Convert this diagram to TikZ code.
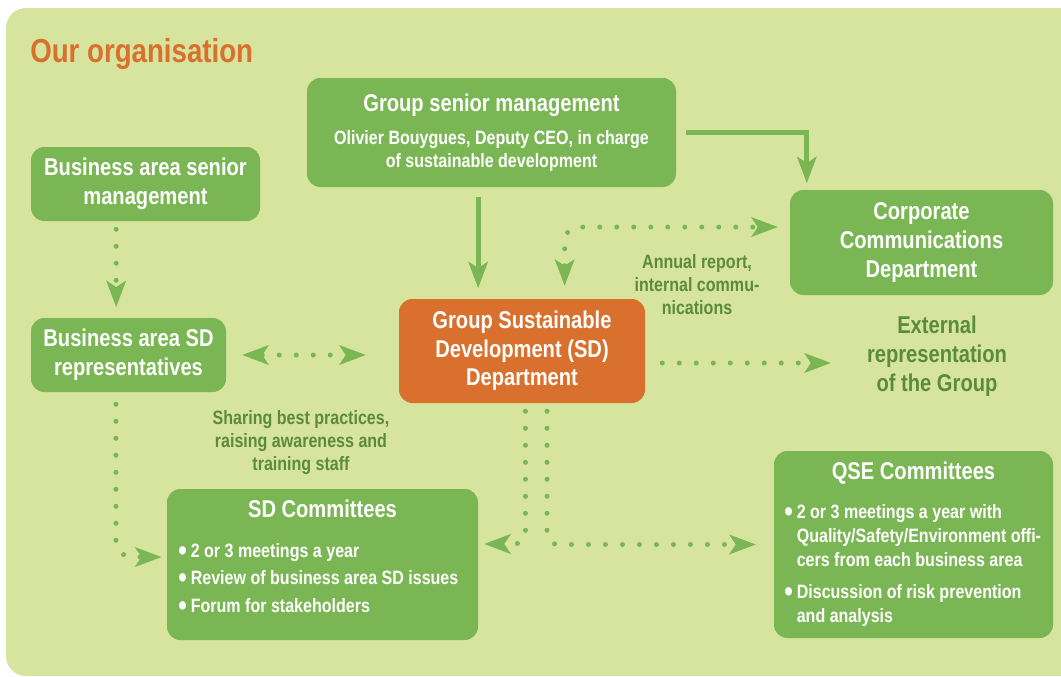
\documentclass[tikz,border=0pt]{standalone}
\usepackage{fontspec}
\setmainfont{Liberation Sans}[FakeStretch=0.83]
\usetikzlibrary{arrows.meta,positioning}
\definecolor{panel}{HTML}{D6E49E}
\definecolor{leaf}{HTML}{7AB653}
\definecolor{rust}{HTML}{D9702E}
\definecolor{moss}{HTML}{5A8C3A}
\newcommand{\bigdot}{\raisebox{-2.4pt}{\fontsize{22}{22}\selectfont\textbullet}\hspace{3pt}}
\newcommand{\nodot}{\phantom{\bigdot}}
\tikzset{
  tipshape/.tip={Stealth[length=20pt,width=15pt,inset=5pt,line width=0pt]},
  box/.style={fill=leaf, rounded corners=10pt, text=white, align=center, inner sep=0pt, font=\bfseries\fontsize{18.2}{21.5}\selectfont},
  rustbox/.style={box, fill=rust},
  boxhead/.style={text=white, inner sep=0pt, font=\bfseries\fontsize{18.2}{21.5}\selectfont},
  listtext/.style={text=white, align=left, inner sep=0pt, font=\bfseries\fontsize{14.5}{20.6}\selectfont},
  tightlist/.style={listtext, font=\bfseries\fontsize{14.5}{18}\selectfont},
  note/.style={text=moss, align=center, inner sep=0pt, font=\bfseries\fontsize{14.5}{17.25}\selectfont},
  bignote/.style={note, font=\bfseries\fontsize{18.2}{21.75}\selectfont},
  heading/.style={text=rust, inner sep=0pt, font=\bfseries\fontsize{25}{30}\selectfont},
  arrow/.style={-tipshape, line width=3.75pt, draw=leaf},
  dotarrow/.style={arrow, line cap=round, dash pattern=on 0pt off 12.75pt},
  twoway/.style={dotarrow, tipshape-tipshape}
}

\begin{document}
\begin{tikzpicture}[x=0.75pt, y=-0.75pt]
\useasboundingbox (0,0) rectangle (1061,676);
\fill[panel, rounded corners=15pt] (1061,8) -- (6,8) -- (6,676) -- (1061,676);
\node[heading, anchor=base west] (ttl) at (30,62) {Our organisation};

\node[box, minimum width=276.75pt, minimum height=81.75pt, font=\bfseries\fontsize{14.5}{17.25}\selectfont] (gsm) at (491.5,132.5) {{\fontsize{18.2}{21.5}\selectfont Group senior management}\\[7.5pt]Olivier Bouygues, Deputy CEO, in charge\\of sustainable development};
\node[box, minimum width=171.75pt, minimum height=55.5pt] (basm) at (145.5,184) {Business area senior\\management};
\node[box, minimum width=146.25pt, minimum height=55.5pt] (basd) at (128.5,355) {Business area SD\\representatives};
\node[rustbox, minimum width=184.5pt, minimum height=78pt] (gsd) at (522,351) {Group Sustainable\\Development (SD)\\Department};
\node[box, minimum width=197.25pt, minimum height=78.75pt] (ccd) at (921.5,242.5) {Corporate\\Communications\\Department};

\node[box, minimum width=233.25pt, minimum height=113.25pt] (sdc) at (322.5,564.5) {};
\node[boxhead, below=8pt of sdc.north] (sdchead) {SD Committees};
\node[listtext, anchor=north west] (sdclist) at (178,543) {\bigdot 2 or 3 meetings a year\\\bigdot Review of business area SD issues\\\bigdot Forum for stakeholders};

\node[box, minimum width=209.25pt, minimum height=140.25pt] (qse) at (913.5,544.5) {};
\node[boxhead, below=8pt of qse.north] (qsehead) {QSE Committees};
\node[tightlist, anchor=north west] (qselist) at (784,504) {\bigdot 2 or 3 meetings a year with\\\nodot Quality/Safety/Environment offi-\\\nodot cers from each business area\\[6pt]\bigdot Discussion of risk prevention\\\nodot and analysis};

\node[note] (annual) at (697,285) {Annual report,\\internal commu-\\nications};
\node[note] (sharing) at (301,443) {Sharing best practices,\\raising awareness and\\training staff};
\node[bignote] (ext) at (937,356) {External\\representation\\of the Group};

\draw[arrow, shorten <=7.5pt, shorten >=8pt] ([xshift=-10pt]gsm.south) -- ([xshift=-10pt]gsm.south |- gsd.north);
\draw[arrow, shorten <=7.5pt, shorten >=5pt] (gsm.east) -| ([xshift=-86pt]ccd.north);
\draw[twoway, rounded corners=10pt, shorten <=9.75pt, shorten >=9pt] ([xshift=32pt]gsd.north) |- ([yshift=11.6pt]ccd.west);
\draw[dotarrow, shorten <=6pt, shorten >=8pt] ([xshift=-22pt]basm.south) -- ([xshift=-22pt]basm.south |- basd.north);
\draw[twoway, shorten <=12pt, shorten >=24.75pt] (basd.east) -- (basd.east -| gsd.west);
\draw[dotarrow, shorten <=12.75pt, shorten >=27pt] ([yshift=-9pt]gsd.east) -- ([yshift=-9pt]gsd.east -| ext.west);
\draw[dotarrow, rounded corners=12pt, shorten <=9pt, shorten >=4pt] ([xshift=-9.4pt]basd.south) |- ([yshift=5.6pt]sdc.west);
\draw[dotarrow, rounded corners=8pt, shorten <=6pt, shorten >=4.5pt] ([xshift=2.6pt]gsd.south) |- ([yshift=15.4pt]sdc.east);
\draw[dotarrow, rounded corners=8pt, shorten <=6pt, shorten >=13.5pt] ([xshift=18.75pt]gsd.south) |- (qse.west);
\end{tikzpicture}
\end{document}
